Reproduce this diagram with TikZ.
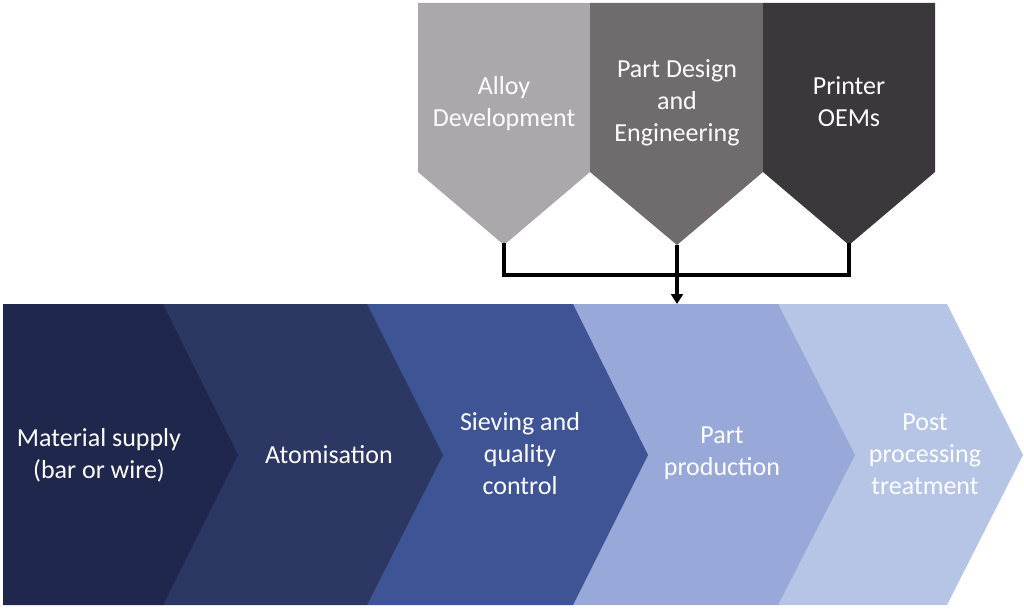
\documentclass[tikz,border=0pt]{standalone}
\usepackage{fontspec}
\setmainfont{Carlito}
\usetikzlibrary{arrows.meta}
\definecolor{cA}{RGB}{31,39,76}
\definecolor{cB}{RGB}{44,56,99}
\definecolor{cC}{RGB}{62,84,148}
\definecolor{cD}{RGB}{152,168,216}
\definecolor{cE}{RGB}{182,196,230}
\definecolor{gA}{RGB}{170,168,170}
\definecolor{gB}{RGB}{112,108,110}
\definecolor{gC}{RGB}{58,56,58}
\tikzset{
  lbl/.style={text=white, align=center, font=\fontsize{26}{32}\selectfont, inner sep=0pt},
  conn/.style={line width=3.6pt, black}
}
\begin{document}
\begin{tikzpicture}[x=1pt,y=-1pt]
\useasboundingbox (0,0) rectangle (1024,609);
% bottom chevrons (right to left so left ones overlap)
\fill[cE] (778,304) -- (947,304) -- (1023,455) -- (947,605) -- (778,605) -- cycle;
\fill[cD] (573,304) -- (778,304) -- (855,455) -- (778,605) -- (573,605) -- cycle;
\fill[cC] (367,304) -- (573,304) -- (648,455) -- (573,605) -- (367,605) -- cycle;
\fill[cB] (163,304) -- (367,304) -- (443,455) -- (367,605) -- (163,605) -- cycle;
\fill[cA] (3,304) -- (163,304) -- (238,455) -- (163,605) -- (3,605) -- cycle;
% top pentagons
\fill[gA] (418,3) -- (590,3) -- (590,172) -- (504,245) -- (418,172) -- cycle;
\fill[gB] (590,3) -- (763,3) -- (763,172) -- (677,245) -- (590,172) -- cycle;
\fill[gC] (763,3) -- (935,3) -- (935,172) -- (849,245) -- (763,172) -- cycle;
% tips and junctions
\coordinate (t1) at (504,245);
\coordinate (t2) at (677,245);
\coordinate (t3) at (849,245);
\coordinate (j2) at (677,275);
\coordinate (tgt) at (677,304);
% labels
\node[lbl] (alloy) at (504,104) {Alloy\\Development};
\node[lbl] (design) at (677,103) {Part Design\\and\\Engineering};
\node[lbl] (oem) at (849,102) {Printer\\OEMs};
\node[lbl] (mat) at (99,455) {Material supply\\(bar or wire)};
\node[lbl] (atom) at (329,455) {Atomisation};
\node[lbl] (sieve) at (520,454) {Sieving and\\quality\\control};
\node[lbl] (prod) at (722,453) {Part\\production};
\node[lbl] (post) at (925,454) {Post\\processing\\treatment};
% connectors
\draw[conn, line cap=rect] (t1) |- (j2) -| (t3);
\draw[conn, -{Triangle[length=10pt,width=12pt]}] (t2) -- (tgt);
\end{tikzpicture}
\end{document}
